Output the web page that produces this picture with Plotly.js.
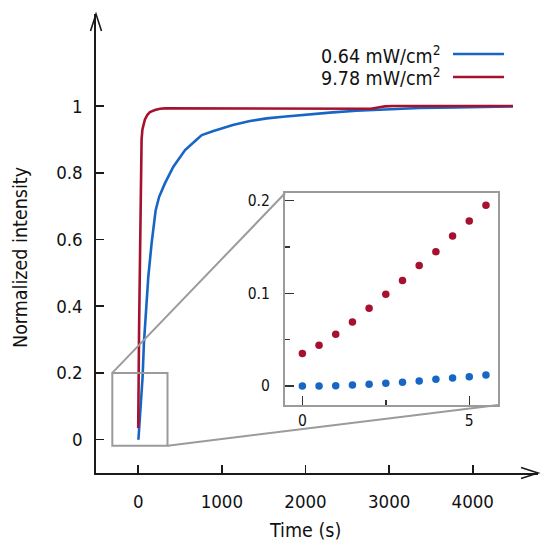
<!DOCTYPE html>
<html>
<head>
<meta charset="utf-8">
<script src="https://cdn.plot.ly/plotly-3.0.1.min.js"></script>
<style>
  html, body { margin: 0; padding: 0; background: #fff; }
  #chart { width: 542px; height: 542px; }
</style>
</head>
<body>
<div id="chart"></div>
<script>
// Axis ticks
const xTicks = [0, 1000, 2000, 3000, 4000];
const yTicks = [0, 0.2, 0.4, 0.6, 0.8, 1];
const insetXTicks = [0, 5];
const insetXMinor = [2.5];
const insetYTicks = [0, 0.1, 0.2];
const insetYMinor = [0.05, 0.15];

// Series names
const lowName = '0.64 mW/cm<sup>2</sup>';
const highName = '9.78 mW/cm<sup>2</sup>';

// First seconds of exposure (sampled every 0.5 s)
const tEarly = [0, 0.5, 1, 1.5, 2, 2.5, 3, 3.5, 4, 4.5, 5, 5.5];
const lowEarly = [0.000, 0.000, 0.0004, 0.001, 0.002, 0.003, 0.004, 0.0054, 0.0072, 0.0086, 0.010, 0.012];
const highEarly = [0.035, 0.044, 0.056, 0.069, 0.084, 0.099, 0.114, 0.130, 0.145, 0.162, 0.178, 0.195];

// Remainder of the run, 0.64 mW/cm2
const tLowLate = [15, 30, 52, 68, 90, 120, 160, 208, 250, 320, 420, 560, 700, 760, 900, 1131, 1336, 1536,
                  1731, 1931, 2130, 2325, 2610, 2981, 3363, 3800, 4200, 4480];
const lowLate = [0.040, 0.100, 0.187, 0.289, 0.388, 0.487, 0.589, 0.687, 0.728, 0.769, 0.818, 0.868, 0.900,
                 0.913, 0.925, 0.943, 0.955, 0.963, 0.968, 0.973, 0.977, 0.981, 0.986, 0.991, 0.994, 0.996,
                 0.998, 0.999];

// Remainder of the run, 9.78 mW/cm2
const tHighLate = [10, 20, 30, 40, 50, 65, 80, 110, 140, 200, 260, 320, 600, 1000, 1500, 2000, 2400, 2550,
                   2620, 2700, 2780, 2850, 2950, 3050, 3500, 4000, 4480];
const highLate = [0.330, 0.580, 0.780, 0.900, 0.930, 0.950, 0.960, 0.974, 0.982, 0.988, 0.992, 0.993, 0.993,
                  0.993, 0.993, 0.993, 0.994, 0.994, 0.992, 0.994, 0.992, 0.995, 0.999, 1.000, 0.999, 1.000,
                  1.000];

const blue = '#1766c6';
const red = '#a5112f';
const frameGray = '#9b9b9b';
const axisInk = '#1a1a1a';
const font = '"DejaVu Sans Condensed", "DejaVu Sans", sans-serif';

const xRange = [-505, 4780];
const yRange = [-0.1, 1.276];
const insetXDomain = [0.4276, 0.9102];
const insetYDomain = [0.1481, 0.6094];

// Highlighted region on the main axes
const zoomBox = {x0: -310, x1: 350, y0: -0.018, y1: 0.2};

const px = v => (v - xRange[0]) / (xRange[1] - xRange[0]);
const py = v => (v - yRange[0]) / (yRange[1] - yRange[0]);

const traces = [
  {x: tEarly.concat(tLowLate), y: lowEarly.concat(lowLate), mode: 'lines', name: lowName,
   line: {color: blue, width: 2.6}, xaxis: 'x', yaxis: 'y', showlegend: false},
  {x: tEarly.concat(tHighLate), y: highEarly.concat(highLate), mode: 'lines', name: highName,
   line: {color: red, width: 2.6}, xaxis: 'x', yaxis: 'y', showlegend: false},
  {x: tEarly, y: lowEarly, mode: 'markers', marker: {color: blue, size: 7.5},
   xaxis: 'x2', yaxis: 'y2', showlegend: false},
  {x: tEarly, y: highEarly, mode: 'markers', marker: {color: red, size: 7.5},
   xaxis: 'x2', yaxis: 'y2', showlegend: false}
];

const shapes = [
  // zoom rectangle
  {type: 'rect', xref: 'x', yref: 'y', x0: zoomBox.x0, x1: zoomBox.x1, y0: zoomBox.y0, y1: zoomBox.y1,
   line: {color: frameGray, width: 2}},
  // connectors to the inset
  {type: 'line', xref: 'paper', yref: 'paper', x0: px(zoomBox.x0), y0: py(zoomBox.y1),
   x1: insetXDomain[0], y1: insetYDomain[1], line: {color: frameGray, width: 2}},
  {type: 'line', xref: 'paper', yref: 'paper', x0: px(zoomBox.x1), y0: py(zoomBox.y0),
   x1: insetXDomain[1], y1: insetYDomain[0], line: {color: frameGray, width: 2}},
  // arrow heads on the axes
  {type: 'path', xref: 'paper', yref: 'paper', xsizemode: 'pixel', ysizemode: 'pixel',
   xanchor: 0, yanchor: 1, path: 'M-5.5,-17 L0,0 L5.5,-17', line: {color: axisInk, width: 1.6}},
  {type: 'path', xref: 'paper', yref: 'paper', xsizemode: 'pixel', ysizemode: 'pixel',
   xanchor: 1, yanchor: 0, path: 'M-17,5.5 L0,0 L-17,-5.5', line: {color: axisInk, width: 1.6}},
  // legend samples
  {type: 'line', xref: 'paper', yref: 'paper', x0: 0.8077, x1: 0.923, y0: 0.9129, y1: 0.9129,
   line: {color: blue, width: 2.6}},
  {type: 'line', xref: 'paper', yref: 'paper', x0: 0.8077, x1: 0.923, y0: 0.8627, y1: 0.8627,
   line: {color: red, width: 2.6}}
];

const titleFont = {family: font, size: 19.5, color: '#111'};

const annotations = [
  {text: lowName, xref: 'paper', yref: 'paper', x: 0.785, y: 0.9107, xanchor: 'right', yanchor: 'middle',
   showarrow: false, font: titleFont},
  {text: highName, xref: 'paper', yref: 'paper', x: 0.785, y: 0.8627, xanchor: 'right', yanchor: 'middle',
   showarrow: false, font: titleFont},
  {text: 'Time (s)', xref: 'paper', yref: 'paper', x: 0.4729, y: -0.1257, xanchor: 'center', yanchor: 'middle',
   showarrow: false, font: titleFont},
  {text: 'Normalized intensity', xref: 'paper', yref: 'paper', x: -0.1697, y: 0.4706, textangle: -90,
   xanchor: 'center', yanchor: 'middle', showarrow: false, font: titleFont}
];

const mainAxis = {
  showline: true, linecolor: axisInk, linewidth: 1.6, ticks: 'inside', ticklen: 8, tickwidth: 1.5,
  tickcolor: axisInk, showgrid: false, zeroline: false, automargin: false,
  tickfont: {family: font, size: 18.5, color: '#111'}
};

const insetAxis = {
  showline: true, mirror: true, linecolor: frameGray, linewidth: 2, ticks: 'inside', ticklen: 9,
  tickwidth: 1.5, tickcolor: '#333', showgrid: false, zeroline: false, automargin: false,
  tickfont: {family: font, size: 15.5, color: '#111'}
};

const layout = {
  width: 542, height: 542,
  margin: {l: 96, r: 4, t: 14, b: 69},
  paper_bgcolor: '#fff', plot_bgcolor: '#fff',
  showlegend: false,
  xaxis: Object.assign({}, mainAxis, {range: xRange, tickvals: xTicks, ticklabelstandoff: 11}),
  yaxis: Object.assign({}, mainAxis, {range: yRange, tickvals: yTicks, ticklabelstandoff: 8}),
  xaxis2: Object.assign({}, insetAxis, {anchor: 'y2', domain: insetXDomain, range: [-0.52, 5.87],
    tickvals: insetXTicks, ticklabelstandoff: 0,
    minor: {tickvals: insetXMinor, ticks: 'inside', ticklen: 5, tickwidth: 1.5, tickcolor: '#333'}}),
  yaxis2: Object.assign({}, insetAxis, {anchor: 'x2', domain: insetYDomain, range: [-0.0205, 0.208],
    tickvals: insetYTicks, ticklabelstandoff: 10,
    minor: {tickvals: insetYMinor, ticks: 'inside', ticklen: 5, tickwidth: 1.5, tickcolor: '#333'}}),
  shapes: shapes,
  annotations: annotations
};

Plotly.newPlot('chart', traces, layout, {displayModeBar: false, staticPlot: true});
</script>
</body>
</html>
